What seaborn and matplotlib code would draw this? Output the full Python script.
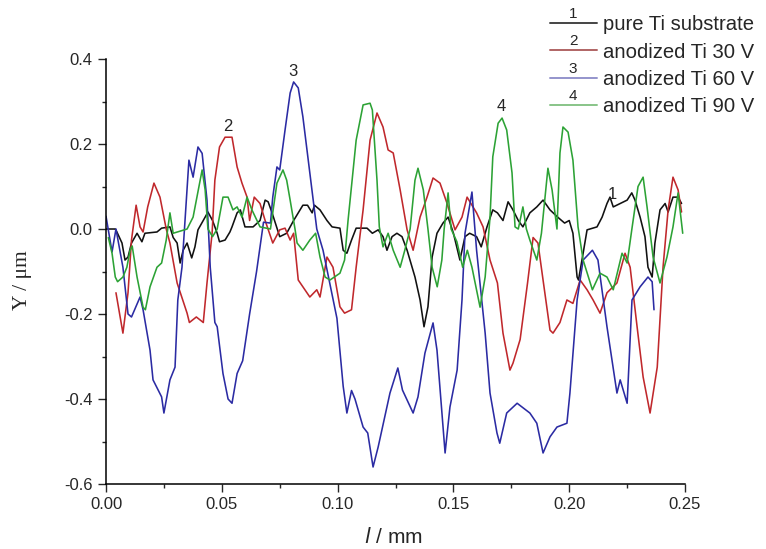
import numpy as np
import pandas as pd
import matplotlib
matplotlib.use("Agg")
import matplotlib.pyplot as plt
import seaborn as sns
from matplotlib.legend_handler import HandlerLine2D
from matplotlib.lines import Line2D
from matplotlib.text import Text

# perfiles (x en mm, y en um)
etiquetas = ["pure Ti substrate", "anodized Ti 30 V", "anodized Ti 60 V", "anodized Ti 90 V"]
numeros = ["1", "2", "3", "4"]

x_ti = [0.0, 0.004, 0.0047, 0.0069, 0.0082, 0.0095, 0.011, 0.0134, 0.0155, 0.0168, 0.022, 0.024, 0.0276,
        0.029, 0.0307, 0.032, 0.0333, 0.035, 0.037, 0.0384, 0.0397, 0.0428, 0.044, 0.046, 0.048, 0.049,
        0.0514, 0.0535, 0.0544, 0.0566, 0.058, 0.06, 0.0635, 0.0665, 0.0687, 0.07, 0.0717, 0.075, 0.078,
        0.081, 0.085, 0.087, 0.089, 0.090, 0.0924, 0.0954, 0.0976, 0.101, 0.1024, 0.104, 0.106, 0.108,
        0.1127, 0.115, 0.1175, 0.1196, 0.1213, 0.1235, 0.1256, 0.1278, 0.13, 0.1334, 0.1356, 0.1373,
        0.139, 0.1408, 0.1429, 0.1455, 0.1477, 0.15, 0.1528, 0.155, 0.157, 0.160, 0.162, 0.1645, 0.167,
        0.169, 0.1714, 0.1736, 0.1757, 0.178, 0.18, 0.183, 0.186, 0.1887, 0.1917, 0.195, 0.198, 0.2,
        0.2016, 0.2034, 0.204, 0.206, 0.2077, 0.212, 0.2142, 0.2163, 0.2176, 0.219, 0.222, 0.225, 0.227,
        0.2284, 0.2306, 0.2327, 0.234, 0.2358, 0.237, 0.2392, 0.2414, 0.2427, 0.2448, 0.247, 0.2485]
y_ti = [0.0, 0.0, -0.007, -0.033, -0.073, -0.066, -0.033, -0.01, -0.03, -0.01, -0.007, 0.002, 0.005,
        -0.02, -0.033, -0.08, -0.05, -0.033, -0.068, -0.042, -0.002, 0.028, 0.04, 0.02, -0.01, -0.03,
        -0.026, -0.007, 0.005, 0.038, 0.045, 0.005, 0.005, 0.02, 0.068, 0.064, 0.038, -0.018, -0.01,
        0.02, 0.056, 0.056, 0.038, 0.056, 0.045, 0.02, 0.005, 0.002, -0.05, -0.057, -0.026, 0.002,
        0.002, -0.01, -0.002, -0.018, -0.05, -0.018, -0.01, -0.018, -0.05, -0.113, -0.167, -0.23,
        -0.183, -0.066, -0.01, 0.014, 0.028, -0.01, -0.073, -0.018, -0.01, -0.018, -0.042, 0.005, 0.045,
        0.038, 0.02, 0.064, 0.045, 0.02, 0.005, 0.038, 0.052, 0.068, 0.045, 0.028, 0.014, 0.02,
        -0.01, -0.113, -0.12, -0.057, -0.002, 0.005, 0.028, 0.06, 0.075, 0.052, 0.06, 0.068, 0.085,
        0.068, 0.028, -0.018, -0.09, -0.113, -0.033, 0.045, 0.06, 0.04, 0.075, 0.075, 0.06]

x_30v = [0.0043, 0.0073, 0.0095, 0.011, 0.013, 0.0147, 0.016, 0.018, 0.0207, 0.0233, 0.026, 0.0276,
         0.0307, 0.035, 0.036, 0.039, 0.042, 0.0436, 0.0458, 0.047, 0.049, 0.0514, 0.0544, 0.0566,
         0.0587, 0.0609, 0.062, 0.064, 0.0665, 0.0687, 0.072, 0.075, 0.0773, 0.0795, 0.081, 0.083,
         0.085, 0.088, 0.091, 0.0924, 0.0954, 0.098, 0.101, 0.103, 0.106, 0.108, 0.111, 0.114, 0.117,
         0.1196, 0.1218, 0.124, 0.127, 0.13, 0.1326, 0.1356, 0.1386, 0.1412, 0.1442, 0.1472, 0.1507,
         0.1537, 0.1559, 0.16, 0.1628, 0.1658, 0.169, 0.1714, 0.1744, 0.1757, 0.1788, 0.182, 0.1844,
         0.1865, 0.1887, 0.1917, 0.193, 0.196, 0.199, 0.2016, 0.2047, 0.2077, 0.2103, 0.2133, 0.2163,
         0.2206, 0.2241, 0.2263, 0.2293, 0.2319, 0.2349, 0.238, 0.2405, 0.2427, 0.2448, 0.247, 0.2485]
y_30v = [-0.15, -0.245, -0.15, -0.026, 0.056, 0.005, -0.007, 0.052, 0.108, 0.075, 0.0, -0.033,
         -0.127, -0.198, -0.22, -0.207, -0.22, -0.127, -0.01, 0.115, 0.193, 0.216, 0.216, 0.146,
         0.108, 0.075, 0.02, 0.075, 0.06, 0.02, -0.033, -0.002, 0.002, -0.026, -0.01, -0.12,
         -0.136, -0.16, -0.143, -0.16, -0.066, -0.09, -0.183, -0.198, -0.19, -0.09, 0.045, 0.209, 0.273,
         0.24, 0.186, 0.179, 0.092, -0.002, -0.05, 0.028, 0.075, 0.12, 0.108, 0.061, -0.002,
         0.028, 0.075, 0.038, 0.005, -0.073, -0.127, -0.245, -0.332, -0.316, -0.26, -0.127, -0.02,
         -0.033, -0.12, -0.238, -0.245, -0.22, -0.167, -0.175, -0.12, -0.143, -0.167, -0.198, -0.15,
         -0.127, -0.057, -0.09, -0.23, -0.348, -0.433, -0.325, -0.09, 0.045, 0.122, 0.092, 0.04]

x_60v = [0.0, 0.0026, 0.0043, 0.0073, 0.0095, 0.011, 0.0147, 0.016, 0.019, 0.0203, 0.024, 0.025,
         0.0276, 0.0298, 0.031, 0.0328, 0.0358, 0.0376, 0.0397, 0.0415, 0.0436, 0.045, 0.047, 0.048,
         0.0505, 0.0527, 0.0544, 0.0566, 0.059, 0.062, 0.065, 0.068, 0.071, 0.072, 0.0738, 0.075,
         0.0773, 0.0795, 0.081, 0.083, 0.085, 0.088, 0.091, 0.0937, 0.0967, 0.0997, 0.1024, 0.104,
         0.106, 0.1075, 0.111, 0.113, 0.1153, 0.1175, 0.1226, 0.126, 0.128, 0.1326, 0.1347, 0.1377,
         0.1412, 0.1429, 0.1464, 0.1485, 0.1516, 0.1537, 0.155, 0.158, 0.16, 0.1637, 0.1658, 0.1688,
         0.170, 0.173, 0.1775, 0.183, 0.186, 0.1887, 0.1917, 0.1947, 0.199, 0.2003, 0.2034, 0.206,
         0.210, 0.2124, 0.2163, 0.2206, 0.222, 0.225, 0.2271, 0.2306, 0.234, 0.2358, 0.2366]
y_60v = [0.03, -0.054, 0.0, -0.09, -0.2, -0.207, -0.16, -0.19, -0.285, -0.355, -0.395, -0.433,
         -0.355, -0.325, -0.167, -0.09, 0.162, 0.122, 0.193, 0.178, 0.068, -0.09, -0.22, -0.23,
         -0.34, -0.40, -0.41, -0.34, -0.31, -0.2, -0.10, 0.016, 0.014, 0.075, 0.146, 0.139,
         0.233, 0.32, 0.346, 0.332, 0.264, 0.132, 0.0, -0.05, -0.13, -0.21, -0.37, -0.433,
         -0.38, -0.40, -0.466, -0.48, -0.56, -0.513, -0.386, -0.327, -0.379, -0.433, -0.395, -0.292,
         -0.221, -0.285, -0.527, -0.419, -0.332, -0.167, -0.01, 0.087, -0.05, -0.245, -0.386, -0.48,
         -0.504, -0.433, -0.41, -0.433, -0.457, -0.527, -0.489, -0.466, -0.457, -0.386, -0.167, -0.073,
         -0.05, -0.073, -0.23, -0.386, -0.355, -0.41, -0.167, -0.136, -0.113, -0.124, -0.19]

x_90v = [0.001, 0.0026, 0.004, 0.005, 0.0073, 0.009, 0.0104, 0.0113, 0.0134, 0.016, 0.017, 0.019,
         0.022, 0.024, 0.026, 0.0276, 0.029, 0.032, 0.035, 0.0376, 0.0415, 0.0428, 0.044, 0.046,
         0.048, 0.0505, 0.0527, 0.0548, 0.0566, 0.0587, 0.0609, 0.063, 0.0665, 0.071, 0.0738, 0.0764,
         0.078, 0.0795, 0.0816, 0.0825, 0.085, 0.088, 0.0905, 0.0924, 0.0946, 0.0967, 0.101, 0.103,
         0.1045, 0.108, 0.111, 0.114, 0.115, 0.117, 0.118, 0.1196, 0.1218, 0.124, 0.127, 0.129,
         0.1313, 0.1334, 0.1347, 0.137, 0.139, 0.1408, 0.143, 0.145, 0.146, 0.1477, 0.149, 0.1515,
         0.154, 0.156, 0.158, 0.1615, 0.1637, 0.1658, 0.167, 0.1693, 0.171, 0.173, 0.1753, 0.1766,
         0.178, 0.18, 0.1815, 0.183, 0.186, 0.188, 0.1908, 0.1926, 0.1947, 0.196, 0.1973, 0.1995,
         0.2016, 0.2038, 0.206, 0.210, 0.2133, 0.2163, 0.219, 0.2228, 0.225, 0.227, 0.2297, 0.2319,
         0.2336, 0.2362, 0.2392, 0.2422, 0.2448, 0.247, 0.249]
y_90v = [-0.02, -0.057, -0.113, -0.124, -0.113, -0.09, -0.05, -0.04, -0.113, -0.184, -0.19, -0.136,
         -0.09, -0.08, -0.026, 0.038, -0.01, -0.005, 0.0, 0.028, 0.139, 0.092, 0.0, -0.018,
         0.0, 0.075, 0.075, 0.045, 0.052, 0.028, 0.075, 0.045, 0.005, 0.0, 0.108, 0.139,
         0.115, 0.068, 0.0, -0.033, -0.05, -0.026, -0.01, -0.066, -0.113, -0.12, -0.104, -0.073,
         0.02, 0.209, 0.292, 0.296, 0.28, 0.115, 0.005, -0.042, -0.01, -0.05, -0.09, -0.05,
         0.0, 0.115, 0.143, 0.092, 0.0, -0.09, -0.136, -0.073, 0.0, 0.085, 0.0, -0.03,
         -0.09, -0.05, -0.09, -0.184, -0.113, 0.028, 0.17, 0.249, 0.261, 0.233, 0.132, 0.005,
         0.0, 0.052, 0.0, -0.026, -0.073, -0.01, 0.143, 0.092, 0.0, 0.179, 0.24, 0.228,
         0.162, 0.005, -0.073, -0.143, -0.104, -0.113, -0.143, -0.057, -0.08, -0.002, 0.1, 0.122,
         0.052, -0.066, -0.127, -0.066, 0.005, 0.085, -0.01]

# donde va cada numero sobre las curvas
pos_num_x = [0.2185, 0.0527, 0.0807, 0.1706]
pos_num_y = [0.082, 0.242, 0.371, 0.288]

colores = ["#111111", "#c0282c", "#2b2ba3", "#2ca235"]
colores_leyenda = ["#444444", "#b06464", "#9494cc", "#88c488"]


class LineaNumerada(HandlerLine2D):
    """Linea de leyenda con el numero de la curva encima."""

    def __init__(self, num, **kw):
        super().__init__(**kw)
        self.num = num

    def create_artists(self, legend, orig_handle, xdescent, ydescent, width, height, fontsize, trans):
        arts = super().create_artists(legend, orig_handle, xdescent, ydescent, width, height, fontsize, trans)
        t = Text(width / 2 - xdescent, height / 2 - ydescent + 1.5, self.num, ha="center", va="bottom",
                 fontsize=fontsize * 0.75, transform=trans)
        return [*arts, t]


def main():
    sns.set_style("ticks")
    plt.rcParams["font.family"] = ["Liberation Sans", "DejaVu Sans"]
    plt.rcParams["axes.unicode_minus"] = False

    df = pd.concat([
        pd.DataFrame({"x": x_ti, "y": y_ti, "muestra": etiquetas[0]}),
        pd.DataFrame({"x": x_30v, "y": y_30v, "muestra": etiquetas[1]}),
        pd.DataFrame({"x": x_60v, "y": y_60v, "muestra": etiquetas[2]}),
        pd.DataFrame({"x": x_90v, "y": y_90v, "muestra": etiquetas[3]}),
    ], ignore_index=True)

    fig = plt.figure(figsize=(7.66, 5.49), dpi=100)
    ax = fig.add_axes([0.1384, 0.1184, 0.7559, 0.7741])

    sns.lineplot(data=df, x="x", y="y", hue="muestra", hue_order=etiquetas,
                 palette=dict(zip(etiquetas, colores)), estimator=None, sort=False,
                 lw=1.15, legend=False, ax=ax)

    ax.set_xlim(0, 0.25)
    ax.set_ylim(-0.6, 0.4)
    ax.set_xticks(np.arange(0, 0.251, 0.05))
    ax.set_xticks(np.arange(0.025, 0.25, 0.05), minor=True)
    ax.set_yticks(np.arange(-0.6, 0.41, 0.2))
    ax.set_yticks(np.arange(-0.5, 0.4, 0.2), minor=True)
    ax.xaxis.set_major_formatter(plt.FormatStrFormatter("%.2f"))
    ax.yaxis.set_major_formatter(plt.FormatStrFormatter("%.1f"))
    ax.tick_params(which="major", direction="out", length=5.5, width=1.0, labelsize=12, pad=4)
    ax.tick_params(which="minor", direction="out", length=3.2, width=1.0)
    sns.despine(ax=ax)
    for s in ["left", "bottom"]:
        ax.spines[s].set_linewidth(1.1)
        ax.spines[s].set_color("black")

    ax.set_xlabel("$l$ / mm", fontsize=15)
    ax.set_ylabel("Y / \u03bcm", fontsize=15.5, family="Liberation Serif")
    ax.xaxis.set_label_coords(0.497, -0.102)
    ax.yaxis.set_label_coords(-0.128, 0.48)

    for n, xx, yy in zip(numeros, pos_num_x, pos_num_y):
        ax.text(xx, yy, n, ha="center", va="center", fontsize=12)

    handles = [Line2D([], [], color=c, lw=1.4) for c in colores_leyenda]
    fig.legend(handles, etiquetas, loc="upper right", bbox_to_anchor=(1.0, 0.994),
               frameon=False, fontsize=14.6, handlelength=2.3, handletextpad=0.3,
               labelspacing=0.4, borderpad=0.3, borderaxespad=0.3,
               handler_map={h: LineaNumerada(n) for h, n in zip(handles, numeros)})

    fig.savefig("out.png", dpi=100)


if __name__ == "__main__":
    main()
